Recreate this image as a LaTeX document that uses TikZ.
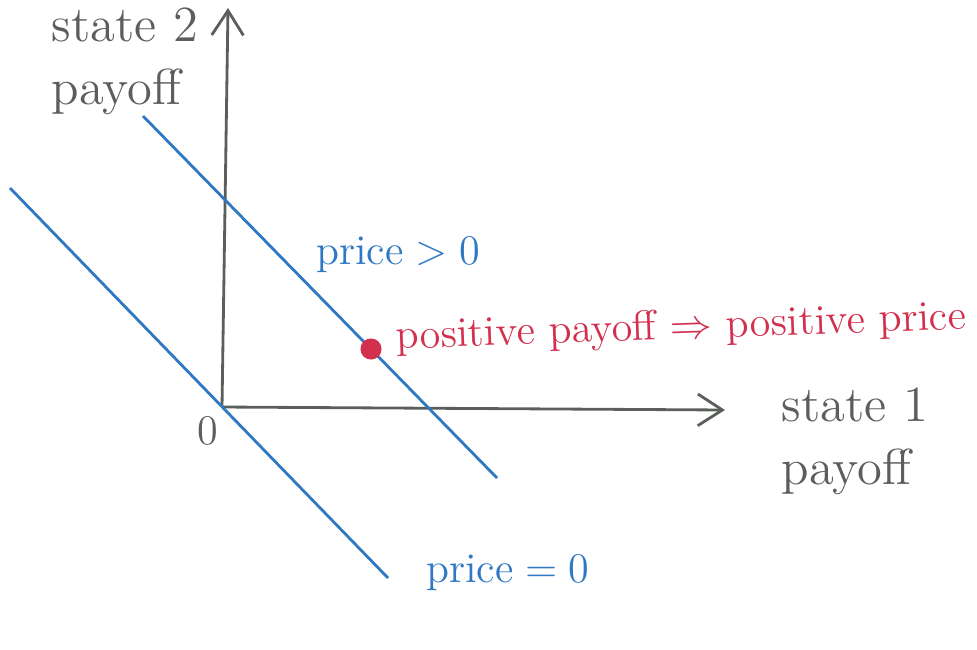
\documentclass[tikz,border=0pt]{standalone}
\usepackage{amsmath,amssymb}
\usepackage{xcolor}
\usepackage{tikz}
\usetikzlibrary{arrows.meta,positioning}
\definecolor{axisgray}{HTML}{5A5F5A}
\definecolor{penblue}{HTML}{2F78C4}
\definecolor{penred}{HTML}{D2304E}
\tikzset{
  axis/.style={-{Straight Barb[length=7pt,width=9pt]}, thick, axisgray},
  budget/.style={thick, penblue},
  axislabel/.style={font=\Large, text=axisgray, align=left, inner sep=1pt},
  linelabel/.style={font=\large, text=penblue, inner sep=1pt},
  note/.style={font=\large, text=penred, inner sep=1pt},
  payoffdot/.style={circle, fill=penred, minimum size=6pt, inner sep=0pt},
}

\begin{document}
\begin{tikzpicture}
\useasboundingbox (0,0) rectangle (9.77,6.49);

% axes
\coordinate (O) at (2.22,2.42);
\coordinate (ytop) at (2.28,6.41);
\coordinate (xend) at (7.25,2.39);
\draw[axis] (O) -- (ytop);
\draw[axis] (O) -- (xend);

\node[axislabel] (ylab) at (1.25,5.88) {state 2\\payoff};
\node[axislabel] (xlab) at (8.55,2.08) {state 1\\payoff};
\node[axislabel, font=\large] (zero) at (2.08,2.18) {0};

% zero-price line through the origin
\coordinate (z1) at (0.10,4.61);
\coordinate (z2) at (3.88,0.71);
\draw[budget] (z1) -- (z2);
\node[linelabel, anchor=west] (pzero) at (4.22,0.76) {price${}={}$0};

% positive-price line
\coordinate (p1) at (1.43,5.33);
\coordinate (p2) at (4.97,1.71);
\draw[budget] (p1) -- (p2);
\node[linelabel] (ppos) at (3.98,3.94) {price${}>{}$0};

% payoff point
\node[payoffdot] (pt) at (3.71,3.00) {};
\node[note, right=0.1cm of pt, anchor=west, rotate=2, yshift=3pt] (claim)
      {positive payoff $\Rightarrow$ positive price};

\end{tikzpicture}
\end{document}
